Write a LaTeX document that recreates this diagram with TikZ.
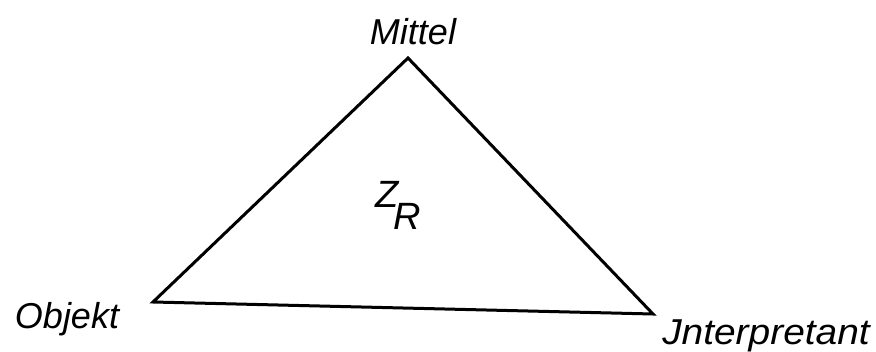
\documentclass[tikz,border=0pt]{standalone}
\usepackage{fontspec}
\setmainfont{Liberation Sans}
\begin{document}
\begin{tikzpicture}[x=1pt,y=1pt,
  lbl/.style={inner sep=0pt,anchor=base,font=\fontsize{36}{40}\selectfont\itshape},
  edge/.style={line width=3pt,line join=miter}]
\useasboundingbox (0,0) rectangle (876,351);
\coordinate (M) at (408,293);
\coordinate (O) at (153,49);
\coordinate (I) at (653,37);
\draw[edge] (M) -- (O) -- (I) -- cycle;
\node[lbl] (mittel) at (413,306) {Mittel};
\node[lbl] (objekt) at (67,23) {Objekt};
\node[lbl,xscale=1.08] (interp) at (766,6) {Jnterpretant};
\node[lbl,font=\fontsize{38}{40}\selectfont\itshape] (z) at (387,143) {Z};
\node[lbl,font=\fontsize{38}{40}\selectfont\itshape] (r) at (407,121) {R};
\end{tikzpicture}
\end{document}
